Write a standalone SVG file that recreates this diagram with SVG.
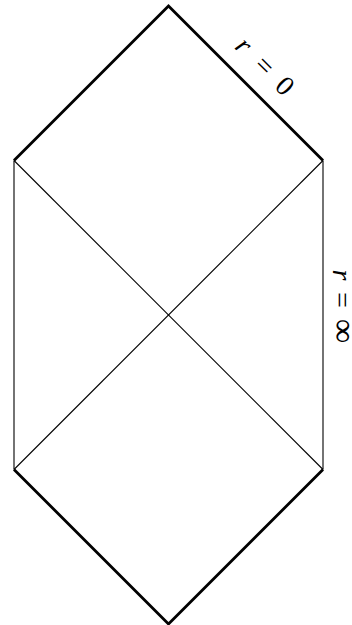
<svg xmlns="http://www.w3.org/2000/svg" width="352" height="625" viewBox="0 0 352 625">
<style>
.thick{fill:none;stroke:#000;stroke-width:2.8;stroke-linejoin:miter;stroke-linecap:butt}
.thin{fill:none;stroke:#000;stroke-width:1.1}
.lbl{font-family:"Liberation Serif","DejaVu Serif",serif;font-size:28px;fill:#000}
.it{font-style:italic}
.inf{font-size:34px}
</style>
<rect width="352" height="625" fill="#fff"/>
<g id="connectors">
<polyline class="thick" points="14,160.5 168.5,6 323,160.5"/>
<polyline class="thick" points="14,469.5 168.5,624 323,469.5"/>
<line class="thin" x1="14" y1="160.5" x2="14" y2="469.5"/>
<line class="thin" x1="323" y1="160.5" x2="323" y2="469.5"/>
<line class="thin" x1="14" y1="160.5" x2="323" y2="469.5"/>
<line class="thin" x1="323" y1="160.5" x2="14" y2="469.5"/>
</g>
<g id="label-r0" transform="translate(258,72) rotate(45)">
<text class="lbl"><tspan class="it" x="-29" text-anchor="middle">r</tspan><tspan x="0" text-anchor="middle">=</tspan><tspan x="29" text-anchor="middle">0</tspan></text>
</g>
<g id="label-rinf" transform="translate(333,300) rotate(90)">
<text class="lbl"><tspan class="it" x="-25" text-anchor="middle">r</tspan><tspan x="0" text-anchor="middle">=</tspan><tspan class="inf" x="31" text-anchor="middle">∞</tspan></text>
</g>
</svg>
